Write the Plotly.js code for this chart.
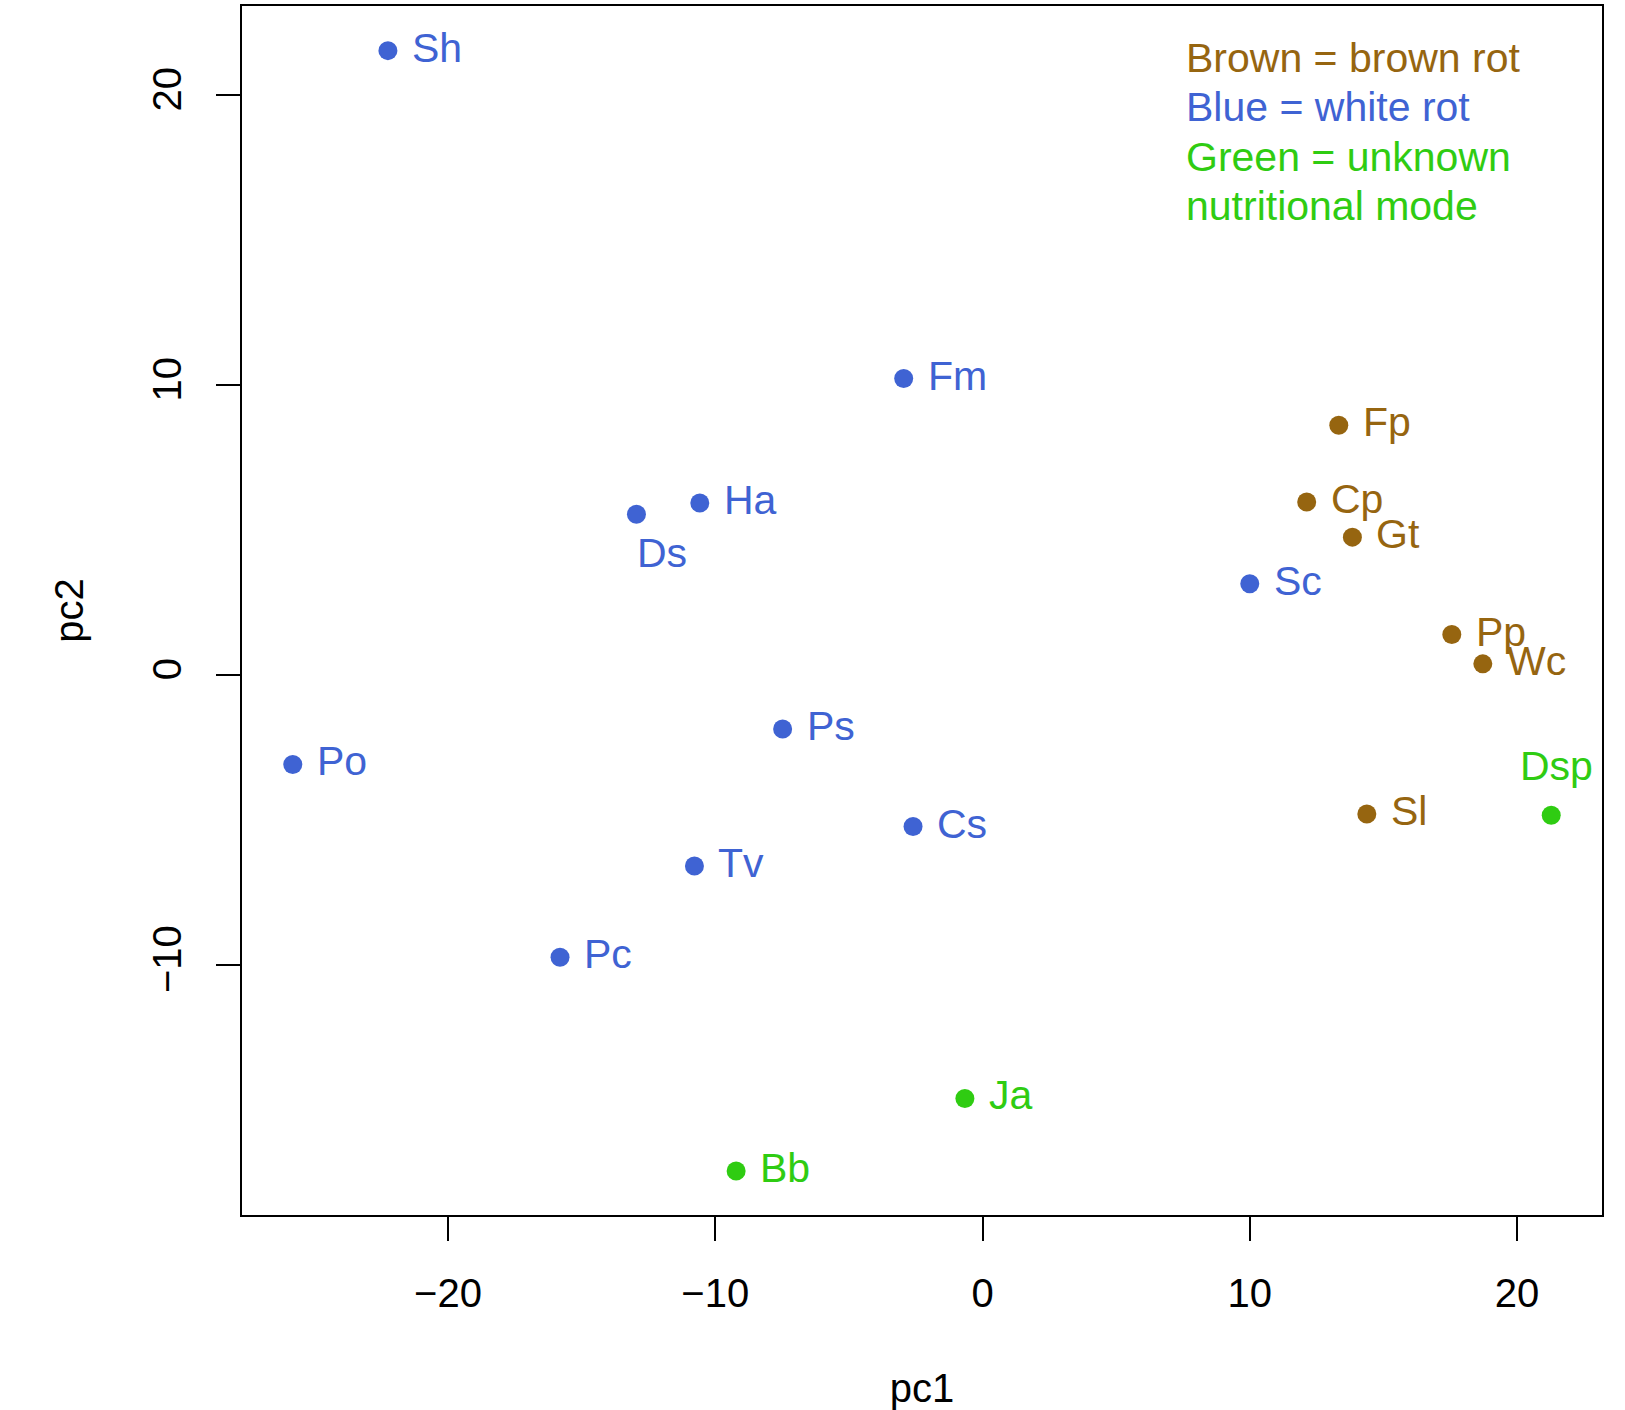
<!DOCTYPE html>
<html>
<head>
<meta charset="utf-8">
<script src="https://cdn.plot.ly/plotly-3.0.1.min.js"></script>
<style>
html,body{margin:0;padding:0;background:#fff;}
#chart{width:1625px;height:1410px;}
</style>
</head>
<body>
<div id="chart"></div>
<script>
// ---- data ----
const names = ["Sh","Fm","Ha","Ds","Ps","Po","Cs","Tv","Pc","Sc","Ja","Bb","Fp","Cp","Gt","Pp","Wc","Sl","Dsp"];
const pc1   = [-22.25,-2.95,-10.58,-12.95,-7.48,-25.81,-2.60,-10.78,-15.81,10.0,-0.66,-9.22,13.33,12.13,13.84,17.56,18.72,14.38,21.28];
const pc2   = [21.54,10.23,5.94,5.55,-1.86,-3.08,-5.22,-6.58,-9.73,3.15,-14.60,-17.10,8.62,5.97,4.76,1.40,0.39,-4.79,-4.83];
const group = ["white","white","white","white","white","white","white","white","white","white","unknown","unknown","brown","brown","brown","brown","brown","brown","unknown"];
const labelPos = ["right","right","right","below","right","right","right","right","right","right","right","right","right","right","right","right","right","right","above"];
const legendLines = ["Brown = brown rot","Blue = white rot","Green = unknown","nutritional mode"];
const legendGroups = ["brown","white","unknown","unknown"];
const xTicks = [-20,-10,0,10,20];
const yTicks = [-10,0,10,20];

// ---- styles ----
const palette = {brown:"#966510", white:"#3f63d3", unknown:"#2fcc12"};
const FONT = "Liberation Sans, Arial, Helvetica, sans-serif";
const FS = 41;

const colors = group.map(g => palette[g]);

const trace = {
  type: "scatter",
  mode: "markers",
  x: pc1,
  y: pc2,
  marker: {color: colors, size: 19, line: {width: 0}},
  hoverinfo: "text",
  text: names,
  showlegend: false
};

const annotations = names.map((n, i) => {
  const a = {
    x: pc1[i], y: pc2[i], xref: "x", yref: "y",
    text: n, showarrow: false,
    font: {family: FONT, size: FS, color: colors[i]}
  };
  if (labelPos[i] === "right") {
    a.xanchor = "left"; a.yanchor = "middle"; a.xshift = 22; a.yshift = 3;
  } else if (labelPos[i] === "below") {
    a.xanchor = "left"; a.yanchor = "top"; a.xshift = -1; a.yshift = -14;
  } else {
    a.xanchor = "center"; a.yanchor = "bottom"; a.xshift = 5; a.yshift = 24;
  }
  return a;
});

legendLines.forEach((t, i) => {
  annotations.push({
    xref: "paper", yref: "paper",
    x: 0.6928, y: 0.9571 - i * 0.04096,
    xanchor: "left", yanchor: "middle",
    text: t, showarrow: false,
    font: {family: FONT, size: FS, color: palette[legendGroups[i]]}
  });
});

const axisCommon = {
  showgrid: false, zeroline: false,
  showline: true, linecolor: "#000", linewidth: 2, mirror: true,
  ticks: "outside", ticklen: 24, tickwidth: 2, tickcolor: "#000",
  tickfont: {family: FONT, size: 40, color: "#000"},
  tickmode: "array"
};

const layout = {
  width: 1625, height: 1410,
  margin: {l: 241.5, r: 22.7, t: 6.2, b: 195.3, pad: 0},
  paper_bgcolor: "#fff", plot_bgcolor: "#fff",
  font: {family: FONT, size: FS, color: "#000"},
  xaxis: Object.assign({}, axisCommon, {
    range: [-27.71, 23.18],
    tickvals: xTicks,
    ticklabelstandoff: 18,
    title: {text: "pc1", font: {family: FONT, size: 40, color: "#000"}, standoff: 76}
  }),
  yaxis: Object.assign({}, axisCommon, {
    range: [-18.62, 23.08],
    tickvals: yTicks,
    tickangle: -90,
    ticklabelstandoff: 19,
    title: {text: "pc2", font: {family: FONT, size: 40, color: "#000"}, standoff: 49}
  }),
  annotations: annotations,
  showlegend: false
};

Plotly.newPlot("chart", [trace], layout, {displayModeBar: false, staticPlot: true});
</script>
</body>
</html>
